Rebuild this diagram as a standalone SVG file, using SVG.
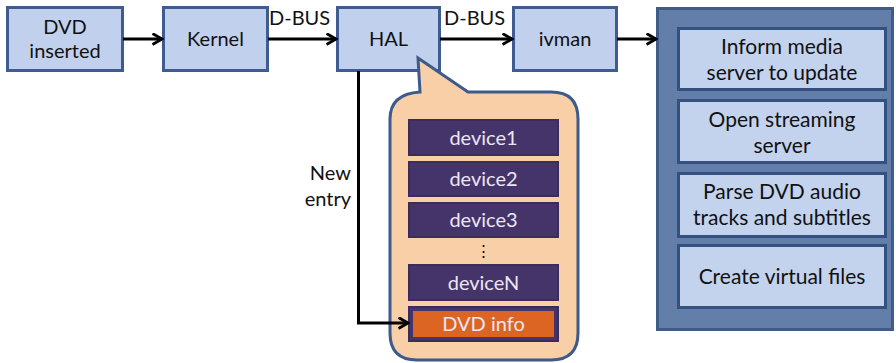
<svg xmlns="http://www.w3.org/2000/svg" width="896" height="363" viewBox="0 0 896 363">
  <defs>
    <marker id="arrow" viewBox="0 0 13 13" refX="11.5" refY="6.5" markerWidth="13" markerHeight="13" markerUnits="userSpaceOnUse" orient="auto">
      <path d="M2,1 L11.5,6.5 L2,12" fill="none" stroke="#000" stroke-width="2.8" stroke-linejoin="miter"/>
    </marker>
  </defs>
  <style>
    text { font-family: Lato, "Open Sans", "Liberation Sans", sans-serif; font-size: 20px; fill: #111; text-anchor: middle; }
    .box { fill: #c1d1ed; stroke: #3e5c8f; stroke-width: 3; }
    .panel { fill: #637ea9; stroke: #3f5b88; stroke-width: 3; }
    .step { fill: #c3d3ee; stroke: #33507e; stroke-width: 3; }
    .step-text { font-size: 21px; }
    .dev { fill: #45346a; stroke: #3a2d5c; stroke-width: 2; }
    .devtext { fill: #ece6f4; }
    .bubble { fill: #f9cfa8; stroke: #3d5a8a; stroke-width: 3; }
    .conn { fill: none; stroke: #000; stroke-width: 3; marker-end: url(#arrow); }
    .label { text-anchor: start; }
    .side { text-anchor: end; }
  </style>

  <!-- pipeline nodes -->
  <g id="dvd-inserted">
    <rect class="box" x="7.5" y="7.5" width="115" height="63"/>
    <text x="65" y="34">DVD</text>
    <text x="65" y="58">inserted</text>
  </g>
  <g id="kernel">
    <rect class="box" x="163.5" y="7.5" width="104" height="63"/>
    <text x="215.5" y="46">Kernel</text>
  </g>
  <g id="hal">
    <rect class="box" x="337.5" y="7.5" width="102" height="63"/>
    <text x="388.5" y="46">HAL</text>
  </g>
  <g id="ivman">
    <rect class="box" x="513.5" y="7.5" width="103" height="63"/>
    <text x="565" y="46">ivman</text>
  </g>

  <!-- HAL device list callout -->
  <g id="hal-devices">
    <path class="bubble" d="M418,58 L468,92 L551,92 Q578,92 578,119 L578,333 Q578,360 551,360 L417,360 Q390,360 390,333 L390,119 Q390,94 420,92 Z"/>
    <g id="device1">
      <rect class="dev" x="409" y="120" width="149" height="35"/>
      <text class="devtext" x="483.5" y="145">device1</text>
    </g>
    <g id="device2">
      <rect class="dev" x="409" y="162" width="149" height="34"/>
      <text class="devtext" x="483.5" y="186">device2</text>
    </g>
    <g id="device3">
      <rect class="dev" x="409" y="203" width="149" height="34"/>
      <text class="devtext" x="483.5" y="227">device3</text>
    </g>
    <text x="483.5" y="257" style="font-size:17px">⋮</text>
    <g id="deviceN">
      <rect class="dev" x="409" y="265" width="149" height="35"/>
      <text class="devtext" x="483.5" y="290">deviceN</text>
    </g>
    <g id="dvd-info">
      <rect class="dev" x="409" y="307" width="149" height="34"/>
      <rect x="413" y="311" width="141" height="26" fill="#dc6524"/>
      <text class="devtext" x="483.5" y="331">DVD info</text>
    </g>
  </g>

  <!-- media handling panel -->
  <g id="media-actions">
    <rect class="panel" x="657.5" y="8.5" width="235" height="321"/>
    <g id="inform-media-server">
      <rect class="step" x="678.5" y="28.5" width="207" height="61"/>
      <text class="step-text" x="782" y="54">Inform media</text>
      <text class="step-text" x="782" y="80">server to update</text>
    </g>
    <g id="open-streaming-server">
      <rect class="step" x="678.5" y="100.5" width="207" height="62"/>
      <text class="step-text" x="782" y="127">Open streaming</text>
      <text class="step-text" x="782" y="153">server</text>
    </g>
    <g id="parse-dvd-tracks">
      <rect class="step" x="678.5" y="173.5" width="207" height="63"/>
      <text class="step-text" x="782" y="199">Parse DVD audio</text>
      <text class="step-text" x="782" y="225">tracks and subtitles</text>
    </g>
    <g id="create-virtual-files">
      <rect class="step" x="678.5" y="245.5" width="207" height="62"/>
      <text class="step-text" x="782" y="284">Create virtual files</text>
    </g>
  </g>

  <!-- connectors -->
  <g id="connectors">
    <path class="conn" d="M123,39 L162,39"/>
    <path class="conn" d="M268,39 L336,39"/>
    <text class="label" x="269" y="25">D-BUS</text>
    <path class="conn" d="M440,39 L512,39"/>
    <text class="label" x="444" y="25">D-BUS</text>
    <path class="conn" d="M617,39 L656,39"/>
    <path class="conn" d="M358.5,71 L358.5,323 L408,323"/>
    <text class="side" x="351" y="180">New</text>
    <text class="side" x="351" y="206">entry</text>
  </g>
</svg>
